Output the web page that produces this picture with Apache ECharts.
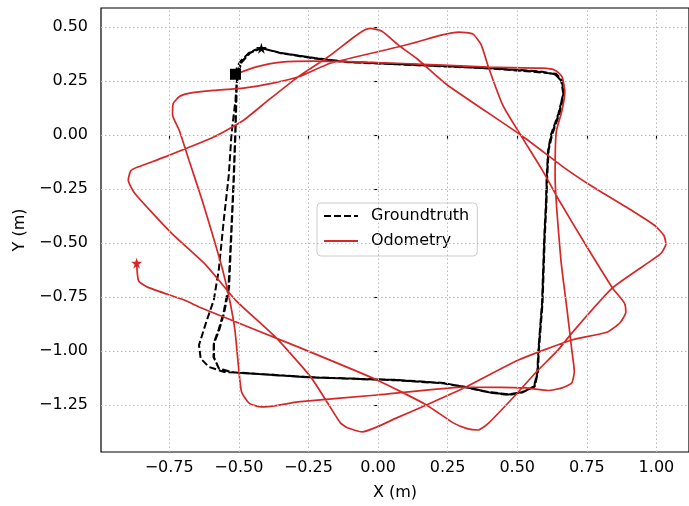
<!DOCTYPE html>
<html><head><meta charset="utf-8">
<script src="https://cdn.jsdelivr.net/npm/echarts@6/dist/echarts.min.js"></script>
<style>html,body{margin:0;padding:0;background:#fff}#c{width:689px;height:506px}</style>
</head><body><div id="c"></div>
<script>
const xTicks = [-0.75, -0.5, -0.25, 0, 0.25, 0.5, 0.75, 1.0];
const yTicks = [-1.25, -1.0, -0.75, -0.5, -0.25, 0, 0.25, 0.5];

const startPoint = [-0.512, 0.282];
const gtEndPoint = [-0.419, 0.403];
const odomEndPoint = [-0.867, -0.593];

const gtLoop1 = [
[-0.512,0.282],[-0.506,0.318],[-0.492,0.345],[-0.465,0.380],[-0.440,0.396],[-0.419,0.403],
[-0.348,0.381],[-0.227,0.357],[-0.110,0.340],[0.067,0.330],[0.245,0.320],[0.398,0.311],[0.494,0.303],
[0.590,0.294],[0.636,0.282],[0.658,0.252],[0.665,0.195],[0.650,0.100],[0.624,0.005],[0.612,-0.069],
[0.607,-0.185],[0.604,-0.315],[0.598,-0.472],[0.590,-0.778],[0.577,-0.995],[0.573,-1.100],[0.562,-1.163],
[0.521,-1.190],[0.469,-1.201],[0.398,-1.190],[0.316,-1.167],[0.234,-1.149],[0.067,-1.135],[-0.252,-1.121],
[-0.526,-1.098],[-0.572,-1.080],[-0.591,-1.028],[-0.590,-0.963],[-0.573,-0.903],[-0.555,-0.824],
[-0.537,-0.704],[-0.527,-0.440],[-0.519,-0.208],[-0.513,0.009],[-0.508,0.241],[-0.501,0.301],
[-0.490,0.340],[-0.460,0.382],[-0.419,0.403]
];
const gtLoop2 = [
[-0.348,0.379],[-0.227,0.355],[-0.110,0.338],[0.067,0.328],[0.245,0.318],[0.398,0.309],[0.494,0.300],
[0.590,0.290],[0.640,0.284],[0.664,0.250],[0.668,0.190],[0.652,0.100],[0.626,0.005],[0.613,-0.069],
[0.608,-0.185],[0.605,-0.315],[0.599,-0.472],[0.591,-0.778],[0.578,-0.995],[0.574,-1.100],[0.563,-1.165],
[0.519,-1.192],[0.469,-1.204],[0.398,-1.192],[0.316,-1.169],[0.234,-1.150],[0.067,-1.136],[-0.252,-1.122],
[-0.526,-1.099],[-0.571,-1.082],[-0.589,-1.030],[-0.589,-0.965],[-0.571,-0.905],[-0.553,-0.826],
[-0.535,-0.706],[-0.526,-0.442],[-0.518,-0.210],[-0.512,0.007],[-0.507,0.240],[-0.500,0.300],
[-0.489,0.339],[-0.459,0.381],[-0.419,0.403]
];
const gtLoop3 = [
[-0.348,0.380],[-0.227,0.356],[-0.110,0.339],[0.067,0.329],[0.245,0.319],[0.398,0.310],[0.494,0.302],
[0.590,0.292],[0.638,0.280],[0.661,0.248],[0.666,0.192],[0.648,0.100],[0.622,0.005],[0.611,-0.069],
[0.606,-0.185],[0.603,-0.315],[0.597,-0.472],[0.589,-0.778],[0.576,-0.995],[0.572,-1.100],[0.560,-1.166],
[0.518,-1.190],[0.469,-1.202],[0.398,-1.191],[0.316,-1.168],[0.234,-1.148],[0.067,-1.134],[-0.252,-1.121],
[-0.483,-1.102],[-0.554,-1.097],[-0.607,-1.074],[-0.637,-1.035],[-0.643,-0.972],[-0.618,-0.870],
[-0.590,-0.764],[-0.572,-0.625],[-0.554,-0.394],[-0.536,-0.185],[-0.526,0.009],[-0.512,0.162],
[-0.508,0.241],[-0.501,0.301],[-0.490,0.340],[-0.460,0.382],[-0.419,0.403]
];

const odometry = [
[-0.512,0.282],[-0.440,0.315],[-0.348,0.338],[-0.227,0.343],[0.067,0.333],[0.398,0.315],[0.590,0.310],
[0.636,0.301],[0.661,0.270],[0.671,0.199],[0.660,0.110],[0.640,0.014],[0.636,-0.185],[0.657,-0.579],
[0.679,-0.810],[0.696,-0.995],[0.705,-1.095],[0.696,-1.148],[0.661,-1.171],[0.611,-1.183],[0.529,-1.171],
[0.316,-1.167],[-0.004,-1.204],[-0.288,-1.236],[-0.360,-1.252],[-0.419,-1.259],[-0.462,-1.243],
[-0.490,-1.190],[-0.501,-1.074],[-0.514,-0.903],[-0.533,-0.764],[-0.558,-0.625],[-0.594,-0.463],
[-0.632,-0.301],[-0.679,-0.116],[-0.714,0.023],[-0.738,0.095],[-0.736,0.145],[-0.712,0.180],
[-0.671,0.196],[-0.590,0.207],[-0.483,0.218],[-0.377,0.241],[-0.288,0.269],[-0.171,0.333],
[0.067,0.407],[0.139,0.431],[0.227,0.463],[0.291,0.477],[0.341,0.468],[0.370,0.420],[0.398,0.310],
[0.448,0.139],[0.519,-0.014],[0.590,-0.162],[0.654,-0.310],[0.742,-0.500],[0.842,-0.708],[0.885,-0.778],
[0.890,-0.820],[0.870,-0.868],[0.824,-0.912],[0.696,-0.949],[0.504,-1.042],[0.316,-1.167],[0.174,-1.250],
[0.067,-1.310],[-0.004,-1.352],[-0.057,-1.375],[-0.110,-1.356],[-0.135,-1.333],[-0.181,-1.241],
[-0.242,-1.120],[-0.369,-0.935],[-0.512,-0.764],[-0.618,-0.602],[-0.742,-0.454],[-0.874,-0.269],
[-0.897,-0.208],[-0.888,-0.165],[-0.863,-0.148],[-0.767,-0.102],[-0.590,-0.009],[-0.483,0.069],
[-0.394,0.162],[-0.288,0.269],[-0.181,0.361],[-0.092,0.449],[-0.050,0.486],[-0.028,0.495],[0.014,0.481],
[0.078,0.412],[0.139,0.355],[0.245,0.236],[0.519,-0.005],[0.671,-0.153],[0.767,-0.236],[0.920,-0.356],
[0.995,-0.420],[1.027,-0.465],[1.034,-0.505],[1.017,-0.547],[0.985,-0.578],[0.842,-0.708],[0.696,-0.917],
[0.647,-0.995],[0.565,-1.102],[0.494,-1.204],[0.398,-1.333],[0.360,-1.366],[0.320,-1.360],[0.270,-1.333],
[0.174,-1.250],[-0.004,-1.134],[-0.288,-0.981],[-0.643,-0.796],[-0.696,-0.764],[-0.828,-0.704],
[-0.860,-0.675],[-0.867,-0.593]
];

const FONT = 'DejaVu Sans';
const fmt = v => (v < 0 ? '\u2212' : '') + Math.abs(v).toFixed(2);
const STAR = 'path://M50,0 L61,35 L98,35 L68,57 L79,91 L50,70 L21,91 L32,57 L2,35 L39,35 Z';

const gridLines = xTicks.map(v => ({xAxis: v})).concat(yTicks.map(v => ({yAxis: v})));

const chart = echarts.init(document.getElementById('c'), null, {renderer: 'canvas'});
chart.setOption({
  animation: false,
  backgroundColor: '#ffffff',
  grid: {left: 101, top: 8, width: 595, height: 444, show: true, borderColor: '#000', borderWidth: 1.2, backgroundColor: 'transparent'},
  xAxis: {
    type: 'value', min: -0.995, max: 1.117,
    name: 'X (m)', nameLocation: 'middle', nameGap: 33,
    nameTextStyle: {fontFamily: FONT, fontSize: 16, color: '#000'},
    axisLine: {show: false},
    axisTick: {show: true, inside: false, length: 5, customValues: xTicks, lineStyle: {color: '#000', width: 1.1}},
    axisLabel: {show: true, customValues: xTicks, formatter: fmt, margin: 8, fontFamily: FONT, fontSize: 16, color: '#000'},
    splitLine: {show: false}
  },
  yAxis: {
    type: 'value', min: -1.468, max: 0.589,
    name: 'Y (m)', nameLocation: 'middle', nameGap: 71, nameRotate: 90,
    nameTextStyle: {fontFamily: FONT, fontSize: 16, color: '#000'},
    axisLine: {show: false},
    axisTick: {show: true, inside: false, length: 5, customValues: yTicks, lineStyle: {color: '#000', width: 1.1}},
    axisLabel: {show: true, customValues: yTicks, formatter: fmt, margin: 13, fontFamily: FONT, fontSize: 16, color: '#000'},
    splitLine: {show: false}
  },
  legend: {
    data: ['Groundtruth', 'Odometry'],
    orient: 'vertical', left: 317, top: 203,
    itemWidth: 34, itemHeight: 14, itemGap: 9,
    padding: [5, 8, 7, 6],
    itemStyle: {opacity: 0},
    backgroundColor: 'rgba(255,255,255,0.85)', borderColor: '#cccccc', borderWidth: 1, borderRadius: 4,
    textStyle: {fontFamily: FONT, fontSize: 16, color: '#000', padding: [0, 0, 0, 8]}
  },
  series: [
    {
      name: 'grid', type: 'line', data: [], silent: true, z: 1,
      markLine: {silent: true, symbol: ['none', 'none'], label: {show: false}, animation: false,
        lineStyle: {color: '#b8b8b8', type: [1.5, 2.5], width: 1}, data: gridLines}
    },
    {
      name: 'Groundtruth', type: 'line', showSymbol: false, symbol: 'none', z: 3,
      data: gtLoop1.concat(gtLoop2, gtLoop3),
      lineStyle: {color: '#000', width: 2, type: [7, 3]}, itemStyle: {color: '#000'}
    },
    {
      name: 'Odometry', type: 'line', showSymbol: false, symbol: 'none', smooth: 0.18, z: 4,
      data: odometry,
      lineStyle: {color: '#d62728', width: 1.7}, itemStyle: {color: '#d62728'}
    },
    {
      name: 'gtmarks', type: 'scatter', z: 6, silent: true,
      data: [{value: startPoint, symbol: 'rect', symbolSize: 11}, {value: gtEndPoint, symbol: STAR, symbolSize: 11}],
      itemStyle: {color: '#000', opacity: 1}
    },
    {
      name: 'odommarks', type: 'scatter', z: 6, silent: true,
      data: [{value: odomEndPoint, symbol: STAR, symbolSize: 11}],
      itemStyle: {color: '#d62728', opacity: 1}
    }
  ]
});
</script></body></html>
